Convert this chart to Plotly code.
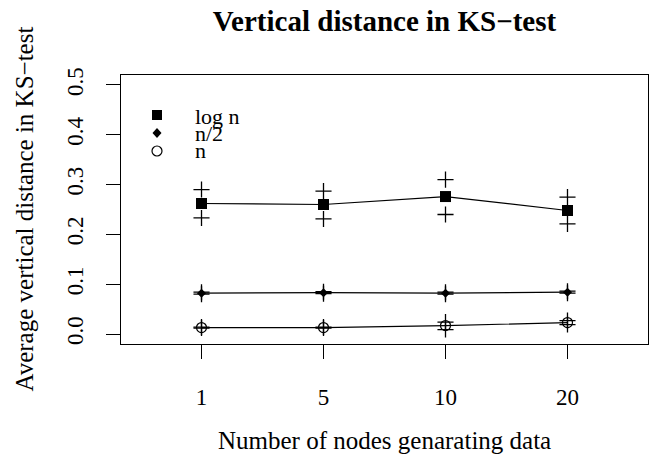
import plotly.graph_objects as go

categories = ["1", "5", "10", "20"]

logn_mean = [0.262, 0.260, 0.276, 0.248]
logn_upper = [0.290, 0.287, 0.310, 0.275]
logn_lower = [0.233, 0.231, 0.240, 0.221]

half_mean = [0.082, 0.083, 0.082, 0.084]
half_upper = [0.084, 0.085, 0.084, 0.086]
half_lower = [0.080, 0.081, 0.080, 0.082]

n_mean = [0.013, 0.013, 0.017, 0.023]
n_upper = [0.014, 0.014, 0.024, 0.027]
n_lower = [0.012, 0.012, 0.009, 0.019]

y_ticks = [0.0, 0.1, 0.2, 0.3, 0.4, 0.5]
legend_labels = ["log n", "n/2", "n"]

FONT = "Liberation Serif"
BLACK = "#000000"

# the page body keeps its default 8px margin, so the figure is drawn
# 8px smaller and everything is laid out in page pixels minus that offset
PAGE_W, PAGE_H, BODY = 664, 457, 8
FIG_W, FIG_H = PAGE_W - BODY, PAGE_H - BODY
PLOT_L, PLOT_R, PLOT_T, PLOT_B = 121, 648, 75, 344  # page pixels
PH = PLOT_B - PLOT_T
PW = PLOT_R - PLOT_L

fig = go.Figure()

series = [
    (logn_mean, logn_upper, logn_lower, dict(symbol="square", size=11, color=BLACK, line=dict(width=0))),
    (half_mean, half_upper, half_lower, dict(symbol="diamond", size=7, color=BLACK, line=dict(width=0))),
    (n_mean, n_upper, n_lower, dict(symbol="circle-open", size=10, color=BLACK, line=dict(width=1.2, color=BLACK))),
]

for mean, up, lo, mk in series:
    fig.add_trace(go.Scatter(x=categories, y=mean, mode="lines+markers",
                             line=dict(color=BLACK, width=1.2), marker=mk,
                             showlegend=False, hoverinfo="skip"))
    for bound in (up, lo):
        fig.add_trace(go.Scatter(x=categories, y=bound, mode="markers",
                                 marker=dict(symbol="cross-thin", size=11.5,
                                             line=dict(width=1.3, color=BLACK)),
                                 showlegend=False, hoverinfo="skip"))

fig.update_layout(
    width=FIG_W, height=FIG_H,
    margin=dict(l=PLOT_L - BODY, r=PAGE_W - PLOT_R, t=PLOT_T - BODY, b=PAGE_H - PLOT_B, pad=0),
    paper_bgcolor="white", plot_bgcolor="white",
    font=dict(family=FONT, size=23, color=BLACK),
    showlegend=False,
    title=dict(text="<b>Vertical distance in KS\u2212test</b>",
               font=dict(family=FONT, size=29, color=BLACK),
               x=0.5, xref="paper", xanchor="center",
               y=1 - (21 - BODY) / FIG_H, yref="container", yanchor="middle"),
)

fig.update_xaxes(
    type="category", range=[-0.66, 3.66],
    showline=True, linecolor=BLACK, linewidth=1.2, mirror=True,
    ticks="outside", ticklen=14, tickwidth=1.2, tickcolor=BLACK,
    showgrid=False, zeroline=False,
    tickfont=dict(family=FONT, size=23), ticklabelstandoff=18,
)
fig.update_yaxes(
    range=[-0.02, 0.52], tickvals=y_ticks, ticktext=[f"{v:.1f}" for v in y_ticks],
    showline=True, linecolor=BLACK, linewidth=1.2, mirror=True,
    ticks="outside", ticklen=14, tickwidth=1.2, tickcolor=BLACK,
    showgrid=False, zeroline=False, tickangle=-90,
    tickfont=dict(family=FONT, size=23), ticklabelstandoff=14,
)

# axis titles
fig.add_annotation(text="Number of nodes genarating data", xref="paper", yref="paper",
                   x=0.5, y=-(440 - PLOT_B) / PH, xanchor="center", yanchor="middle",
                   showarrow=False, font=dict(family=FONT, size=25))
fig.add_annotation(text="Average vertical distance in KS\u2212test", xref="paper", yref="paper",
                   x=(24 - PLOT_L) / PW, y=0.5, xanchor="center", yanchor="middle",
                   textangle=-90, showarrow=False, font=dict(family=FONT, size=25))

# manual legend (R style, no box)
sym_x = (157 - PLOT_L) / PW
txt_x = (193 - PLOT_L) / PW
sym_rows = [(PLOT_B - 115) / PH, (PLOT_B - 133) / PH, (PLOT_B - 151) / PH]
txt_rows = [(PLOT_B - 116) / PH, (PLOT_B - 133) / PH, (PLOT_B - 150) / PH]

fig.add_shape(type="rect", xref="paper", yref="paper", xsizemode="pixel", ysizemode="pixel",
              xanchor=sym_x, yanchor=sym_rows[0], x0=-5, x1=5, y0=-5, y1=5,
              fillcolor=BLACK, line=dict(width=0))
fig.add_shape(type="path", xref="paper", yref="paper", xsizemode="pixel", ysizemode="pixel",
              xanchor=sym_x, yanchor=sym_rows[1], path="M 0 5 L 4.5 0 L 0 -5 L -4.5 0 Z",
              fillcolor=BLACK, line=dict(width=0))
fig.add_shape(type="circle", xref="paper", yref="paper", xsizemode="pixel", ysizemode="pixel",
              xanchor=sym_x, yanchor=sym_rows[2], x0=-5, x1=5, y0=-5, y1=5,
              fillcolor="rgba(0,0,0,0)", line=dict(width=1.2, color=BLACK))
for lab, yy in zip(legend_labels, txt_rows):
    fig.add_annotation(text=lab, xref="paper", yref="paper", x=txt_x, y=yy,
                       xanchor="left", yanchor="middle", showarrow=False,
                       font=dict(family=FONT, size=22))

fig.write_html("out.html")
